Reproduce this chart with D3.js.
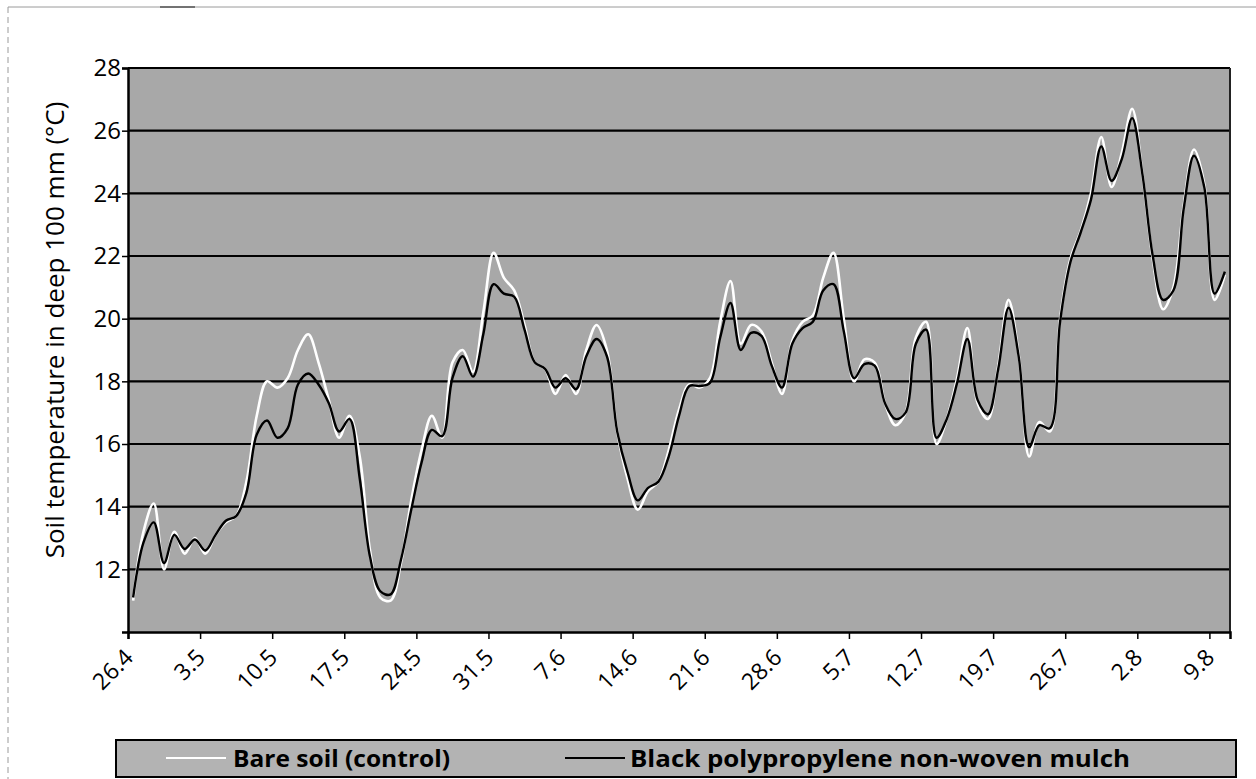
<!DOCTYPE html>
<html>
<head>
<meta charset="utf-8">
<script src="https://cdn.jsdelivr.net/npm/d3@7"></script>
<style>
  html, body { margin: 0; padding: 0; background: #ffffff; }
  svg { display: block; }
</style>
</head>
<body>
<svg id="chart" width="1256" height="779"></svg>
<script>
// ---- data ----
const tickLabels = ["26.4","3.5","10.5","17.5","24.5","31.5","7.6","14.6","21.6","28.6","5.7","12.7","19.7","26.7","2.8","9.8"];
const tickDays   = [0,7,14,21,28,35,42,49,56,63,70,77,84,91,98,105];
const yTicks     = [12,14,16,18,20,22,24,26,28];
const seriesNames = ["Bare soil (control)", "Black polypropylene non-woven mulch"];

// daily soil temperature, starting 26.4
const bareSoil = [11.0,13.2,14.1,12.0,13.2,12.5,13.0,12.5,13.1,13.5,
  13.7,14.8,16.9,18.0,17.8,18.1,19.0,19.5,18.6,17.4,
  16.2,16.9,15.6,12.6,11.1,11.0,12.2,14.2,15.8,16.9,
  16.2,18.6,19.0,18.3,20.2,22.1,21.3,20.9,19.8,18.6,
  18.4,17.6,18.2,17.6,19.0,19.8,19.0,16.4,14.9,13.9,
  14.5,14.8,15.8,17.1,17.9,17.8,18.1,19.9,21.2,19.2,
  19.8,19.6,18.6,17.6,19.3,19.9,20.1,21.3,22.1,20.0,
  18.0,18.7,18.6,17.3,16.6,17.0,19.4,19.9,16.0,16.8,
  18.1,19.7,17.3,16.8,18.5,20.6,18.8,15.6,16.7,16.4,
  20.0,21.9,22.8,24.0,25.8,24.2,25.3,26.7,24.6,21.9,
  20.3,21.0,23.6,25.4,24.3,20.6,21.4];

const mulch = [11.1,12.85,13.5,12.2,13.1,12.65,12.95,12.6,13.1,13.55,
  13.7,14.45,16.3,16.75,16.2,16.5,17.9,18.25,17.9,17.3,
  16.4,16.8,14.9,12.4,11.3,11.2,12.3,13.9,15.4,16.45,
  16.25,18.1,18.8,18.15,19.5,21.1,20.8,20.7,19.65,18.6,
  18.4,17.8,18.1,17.75,18.8,19.35,18.8,16.4,15.1,14.2,
  14.6,14.8,15.6,16.9,17.85,17.85,17.95,19.4,20.5,19.0,
  19.55,19.45,18.5,17.8,19.2,19.7,19.9,20.9,21.1,19.6,
  18.1,18.55,18.5,17.3,16.8,17.0,19.2,19.65,16.2,16.8,
  17.95,19.35,17.4,16.95,18.4,20.35,18.75,15.9,16.6,16.5,
  19.9,21.8,22.75,23.8,25.5,24.4,25.1,26.4,24.6,22.0,
  20.6,20.9,23.5,25.2,24.2,20.8,21.5];

// ---- layout ----
const svg = d3.select("#chart");
const L = 128, R = 1230, T = 68, B = 632;
const font = "'Open Sans', 'Noto Sans', sans-serif";

const x = d3.scaleLinear().domain([0, 107]).range([L, R]);
const y = d3.scaleLinear().domain([10, 28]).range([B, T]);

// page scan frame
svg.append("line").attr("x1", 8).attr("x2", 1256).attr("y1", 7).attr("y2", 7)
  .attr("stroke", "#9a9a9a").attr("stroke-width", 1);
svg.append("line").attr("x1", 160).attr("x2", 195).attr("y1", 7).attr("y2", 7)
  .attr("stroke", "#555").attr("stroke-width", 1.5);
svg.append("line").attr("x1", 8).attr("x2", 8).attr("y1", 7).attr("y2", 779)
  .attr("stroke", "#9a9a9a").attr("stroke-width", 1).attr("stroke-dasharray", "6 4");

// plot background
svg.append("rect").attr("x", L).attr("y", T).attr("width", R - L).attr("height", B - T)
  .attr("fill", "#a8a8a8");

// gridlines
svg.append("g").selectAll("line").data(yTicks).join("line")
  .attr("x1", L).attr("x2", R)
  .attr("y1", d => y(d)).attr("y2", d => y(d))
  .attr("stroke", "#000").attr("stroke-width", 2.2);

// right border
svg.append("line").attr("x1", R).attr("x2", R).attr("y1", T).attr("y2", B)
  .attr("stroke", "#222").attr("stroke-width", 2);

// lines
const lineGen = d3.line()
  .x((d, i) => x(i + 0.5))
  .y(d => y(d))
  .curve(d3.curveCatmullRom.alpha(0.5));

svg.append("path").datum(bareSoil).attr("d", lineGen)
  .attr("fill", "none").attr("stroke", "#ffffff").attr("stroke-width", 2.6)
  .attr("stroke-linejoin", "round");
svg.append("path").datum(mulch).attr("d", lineGen)
  .attr("fill", "none").attr("stroke", "#000000").attr("stroke-width", 2.4)
  .attr("stroke-linejoin", "round");

// y axis
const yAxis = svg.append("g").attr("transform", `translate(${L},0)`)
  .call(d3.axisLeft(y).tickValues(yTicks).tickSize(6).tickPadding(1).tickFormat(d3.format("d")));
yAxis.select(".domain").attr("stroke", "#000").attr("stroke-width", 2.5);
yAxis.selectAll(".tick line").attr("stroke", "#000").attr("stroke-width", 1.5);
yAxis.selectAll(".tick text").attr("font-family", font).attr("font-size", 24).attr("fill", "#000");

// x axis
const xAxis = svg.append("g").attr("transform", `translate(0,${B})`)
  .call(d3.axisBottom(x).tickValues(tickDays).tickSize(7)
    .tickFormat((d, i) => tickLabels[i]));
xAxis.select(".domain").attr("stroke", "#000").attr("stroke-width", 2.5);
xAxis.selectAll(".tick line").attr("stroke", "#000").attr("stroke-width", 1.5);
xAxis.selectAll(".tick text")
  .attr("font-family", font).attr("font-size", 23).attr("fill", "#000")
  .attr("text-anchor", "end")
  .attr("dy", null).attr("y", null)
  .attr("transform", "translate(6,27) rotate(-45)");

// y axis title
svg.append("text")
  .attr("transform", `translate(64,330) rotate(-90)`)
  .attr("text-anchor", "middle")
  .attr("font-family", font).attr("font-size", 26).attr("fill", "#000")
  .text("Soil temperature in deep 100 mm (°C)");

// legend
const leg = svg.append("g");
leg.append("rect").attr("x", 116).attr("y", 740).attr("width", 1120).attr("height", 37)
  .attr("fill", "#b3b3b3").attr("stroke", "#000").attr("stroke-width", 2);
leg.append("line").attr("x1", 166).attr("x2", 226).attr("y1", 758).attr("y2", 758)
  .attr("stroke", "#fff").attr("stroke-width", 2);
leg.append("text").attr("x", 233).attr("y", 767)
  .attr("font-family", font).attr("font-weight", "bold").attr("font-size", 23)
  .attr("textLength", 217).attr("lengthAdjust", "spacingAndGlyphs")
  .attr("fill", "#000").text(seriesNames[0]);
leg.append("line").attr("x1", 565).attr("x2", 625).attr("y1", 758).attr("y2", 758)
  .attr("stroke", "#000").attr("stroke-width", 2.2);
leg.append("text").attr("x", 630).attr("y", 767)
  .attr("font-family", font).attr("font-weight", "bold").attr("font-size", 23)
  .attr("textLength", 500).attr("lengthAdjust", "spacingAndGlyphs")
  .attr("fill", "#000").text(seriesNames[1]);
</script>
</body>
</html>
